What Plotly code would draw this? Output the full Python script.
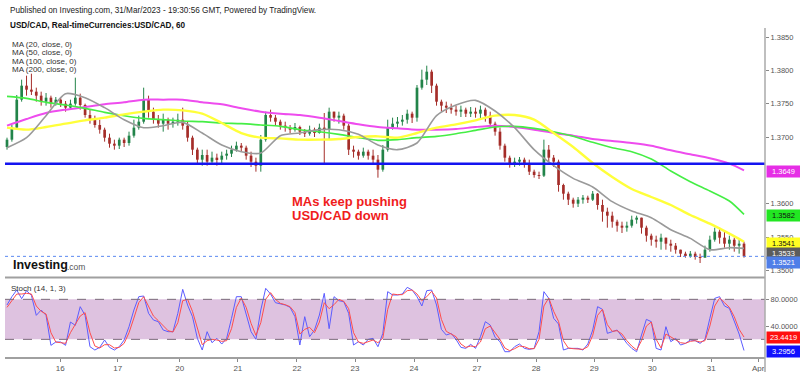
import plotly.graph_objects as go

# ---------------- data (2-hour bars, USD/CAD) ----------------
open0 = 1.3685
close = [
    1.3696, 1.3714, 1.3756, 1.3777, 1.3771, 1.3768, 1.3762, 1.3753, 1.3759, 1.3750,
    1.3756, 1.3750, 1.3744, 1.3750, 1.3759, 1.3748, 1.3733, 1.3726, 1.3718, 1.3711,
    1.3699, 1.3690, 1.3687, 1.3696, 1.3691, 1.3702, 1.3714, 1.3723, 1.3756, 1.3738,
    1.3726, 1.3720, 1.3726, 1.3720, 1.3723, 1.3726, 1.3717, 1.3699, 1.3681, 1.3666,
    1.3673, 1.3663, 1.3669, 1.3666, 1.3672, 1.3675, 1.3681, 1.3687, 1.3684, 1.3672,
    1.3663, 1.3657, 1.3696, 1.3733, 1.3729, 1.3723, 1.3717, 1.3714, 1.3711, 1.3715,
    1.3708, 1.3705, 1.3711, 1.3706, 1.3714, 1.3711, 1.3738, 1.3729, 1.3732, 1.3717,
    1.3681, 1.3678, 1.3672, 1.3678, 1.3672, 1.3666, 1.3651, 1.3681, 1.3714, 1.3720,
    1.3723, 1.3726, 1.3735, 1.3729, 1.3774, 1.3786, 1.3798, 1.3777, 1.3753, 1.3747,
    1.3744, 1.3741, 1.3738, 1.3741, 1.3735, 1.3738, 1.3735, 1.3741, 1.3732, 1.3720,
    1.3708, 1.3687, 1.3669, 1.3660, 1.3663, 1.3666, 1.3660, 1.3648, 1.3643, 1.3642,
    1.3681, 1.3669, 1.3663, 1.3628, 1.3615, 1.3606, 1.3600, 1.3606, 1.3609, 1.3606,
    1.3615, 1.3598, 1.3588, 1.3582, 1.3573, 1.3567, 1.3564, 1.3567, 1.3576, 1.3579,
    1.3564, 1.3552, 1.3546, 1.3543, 1.3549, 1.3540, 1.3537, 1.3531, 1.3525, 1.3523,
    1.3525, 1.3520, 1.3519, 1.3531, 1.3546, 1.3558, 1.3549, 1.3540, 1.3546, 1.3537,
    1.3540, 1.3521,
]
high = [
    1.3699, 1.3718, 1.3763, 1.3786, 1.3792, 1.3795, 1.3774, 1.3768, 1.3766, 1.3762,
    1.3760, 1.3759, 1.3754, 1.3756, 1.3789, 1.3765, 1.3750, 1.3741, 1.3732, 1.3726,
    1.3714, 1.3705, 1.3696, 1.3699, 1.3699, 1.3708, 1.3726, 1.3732, 1.3774, 1.3762,
    1.3744, 1.3733, 1.3735, 1.3729, 1.3729, 1.3735, 1.3744, 1.3723, 1.3702, 1.3684,
    1.3681, 1.3681, 1.3678, 1.3675, 1.3678, 1.3681, 1.3687, 1.3693, 1.3691, 1.3687,
    1.3678, 1.3669, 1.3703, 1.3738, 1.3741, 1.3733, 1.3726, 1.3723, 1.3718, 1.3721,
    1.3717, 1.3712, 1.3717, 1.3714, 1.3720, 1.3736, 1.3744, 1.3738, 1.3738, 1.3735,
    1.3720, 1.3687, 1.3681, 1.3684, 1.3681, 1.3681, 1.3673, 1.3688, 1.3726, 1.3729,
    1.3730, 1.3733, 1.3741, 1.3738, 1.3778, 1.3801, 1.3807, 1.3801, 1.3780, 1.3756,
    1.3753, 1.3750, 1.3747, 1.3747, 1.3744, 1.3745, 1.3744, 1.3747, 1.3744, 1.3738,
    1.3723, 1.3714, 1.3690, 1.3672, 1.3669, 1.3670, 1.3669, 1.3666, 1.3651, 1.3648,
    1.3696, 1.3688, 1.3673, 1.3666, 1.3630, 1.3618, 1.3609, 1.3610, 1.3613, 1.3612,
    1.3619, 1.3616, 1.3606, 1.3594, 1.3588, 1.3576, 1.3573, 1.3573, 1.3582, 1.3582,
    1.3579, 1.3567, 1.3555, 1.3552, 1.3555, 1.3549, 1.3546, 1.3541, 1.3531, 1.3528,
    1.3529, 1.3528, 1.3525, 1.3537, 1.3552, 1.3564, 1.3564, 1.3558, 1.3552, 1.3549,
    1.3546, 1.3543,
]
low = [
    1.3681, 1.3693, 1.3711, 1.3753, 1.3762, 1.3763, 1.3753, 1.3747, 1.3747, 1.3744,
    1.3747, 1.3745, 1.3738, 1.3741, 1.3747, 1.3741, 1.3729, 1.3720, 1.3714, 1.3705,
    1.3693, 1.3684, 1.3681, 1.3682, 1.3685, 1.3687, 1.3699, 1.3711, 1.3720, 1.3729,
    1.3720, 1.3714, 1.3708, 1.3711, 1.3714, 1.3717, 1.3711, 1.3693, 1.3673, 1.3658,
    1.3657, 1.3657, 1.3658, 1.3657, 1.3661, 1.3666, 1.3670, 1.3678, 1.3678, 1.3666,
    1.3655, 1.3648, 1.3648, 1.3693, 1.3723, 1.3717, 1.3711, 1.3708, 1.3706, 1.3708,
    1.3703, 1.3700, 1.3702, 1.3700, 1.3705, 1.3661, 1.3696, 1.3723, 1.3720, 1.3711,
    1.3673, 1.3669, 1.3666, 1.3669, 1.3666, 1.3660, 1.3639, 1.3648, 1.3678, 1.3711,
    1.3714, 1.3717, 1.3720, 1.3721, 1.3723, 1.3771, 1.3778, 1.3766, 1.3747, 1.3738,
    1.3736, 1.3735, 1.3732, 1.3730, 1.3730, 1.3730, 1.3729, 1.3726, 1.3723, 1.3714,
    1.3702, 1.3681, 1.3663, 1.3654, 1.3655, 1.3657, 1.3654, 1.3643, 1.3639, 1.3637,
    1.3640, 1.3663, 1.3655, 1.3618, 1.3606, 1.3598, 1.3594, 1.3595, 1.3600, 1.3601,
    1.3604, 1.3591, 1.3573, 1.3564, 1.3564, 1.3558, 1.3556, 1.3558, 1.3564, 1.3570,
    1.3555, 1.3543, 1.3537, 1.3534, 1.3531, 1.3531, 1.3528, 1.3525, 1.3520, 1.3519,
    1.3519, 1.3516, 1.3511, 1.3519, 1.3528, 1.3543, 1.3540, 1.3534, 1.3531, 1.3528,
    1.3525, 1.3519,
]

ma_idx = [0, 4, 8, 12, 16, 20, 24, 28, 32, 36, 40, 44, 48, 52, 56, 60, 64, 68, 72, 76,
          80, 84, 88, 92, 96, 100, 104, 108, 112, 116, 120, 124, 128, 132, 136, 140, 144, 148, 151]
ma20 = [1.3684, 1.3699, 1.3732, 1.3765, 1.3759, 1.3744, 1.3726, 1.3714, 1.3717, 1.3722,
        1.3706, 1.3688, 1.3678, 1.3676, 1.3702, 1.3706, 1.3711, 1.3711, 1.3704, 1.3688,
        1.3681, 1.3691, 1.3732, 1.3748, 1.3755, 1.3739, 1.3714, 1.3681, 1.3657, 1.3638,
        1.3625, 1.3603, 1.3589, 1.3579, 1.3561, 1.3548, 1.3531, 1.3534, 1.3533]
ma50 = [1.3714, 1.3711, 1.3715, 1.3720, 1.3725, 1.3729, 1.3734, 1.3738, 1.3741, 1.3740,
        1.3735, 1.3721, 1.3706, 1.3699, 1.3698, 1.3696, 1.3696, 1.3697, 1.3700, 1.3701,
        1.3699, 1.3706, 1.3714, 1.3719, 1.3725, 1.3732, 1.3733, 1.3726, 1.3706, 1.3685,
        1.3661, 1.3640, 1.3622, 1.3610, 1.3598, 1.3583, 1.3570, 1.3555, 1.3543]
ma100 = [1.3761, 1.3758, 1.3752, 1.3748, 1.3743, 1.3737, 1.3732, 1.3728, 1.3726, 1.3724,
         1.3723, 1.3721, 1.3720, 1.3718, 1.3716, 1.3711, 1.3708, 1.3704, 1.3699, 1.3695,
         1.3696, 1.3699, 1.3701, 1.3705, 1.3710, 1.3715, 1.3716, 1.3713, 1.3708, 1.3701,
         1.3692, 1.3684, 1.3678, 1.3667, 1.3649, 1.3633, 1.3619, 1.3604, 1.3584]
ma200 = [1.3717, 1.3727, 1.3736, 1.3741, 1.3745, 1.3749, 1.3752, 1.3756, 1.3756, 1.3756,
         1.3752, 1.3749, 1.3743, 1.3738, 1.3735, 1.3733, 1.3729, 1.3724, 1.3719, 1.3715,
         1.3713, 1.3711, 1.3711, 1.3712, 1.3715, 1.3717, 1.3715, 1.3711, 1.3706, 1.3702,
         1.3697, 1.3694, 1.3691, 1.3687, 1.3680, 1.3674, 1.3668, 1.3660, 1.3650]

stoch_k = [
    71.5, 84, 94, 81, 93, 86, 56, 64, 56, 11,
    16, 16, 11, 46, 41, 69, 56, 9, 4, 8,
    19, 8, 4, 9, 19, 39, 64, 84, 85, 59,
    49, 46.5, 34, 31.5, 31.5, 59, 95, 71.5, 54, 21.5,
    4, 31.5, 15, 21.5, 13, 21.5, 51.5, 84, 84, 56.5,
    31.5, 20, 64, 96.5, 88, 75, 73, 71.5, 68, 54,
    11.5, 54, 24, 34, 56.5, 89, 36, 84, 78, 76.5,
    59, 11.5, 16.5, 11.5, 20, 21.5, 9, 29, 91.5, 86.5,
    86.5, 88, 98, 94, 84, 70, 93, 94, 71.5, 35,
    26.5, 29, 20, 8, 6.5, 12.5, 6.5, 24, 46.5, 41.5,
    23, 16.5, 1.5, 1.5, 9, 13, 6.5, 5, 6.5, 31.5,
    91.5, 81.5, 51.5, 43, 4, 6.5, 6.5, 6.5, 4, 13,
    34, 69, 65, 29, 31.5, 34, 24, 14, 6.5, 1.5,
    26.5, 50, 46.5, 6.5, 4, 39, 16.5, 21.5, 11.5, 14,
    19, 18, 14, 20, 51.5, 81.5, 84, 70, 66.5, 46,
    28, 3.2956,
]
stoch_d = [
    68, 78, 88, 88, 89, 88, 70, 62, 58, 30,
    16, 15, 14, 30, 42, 55, 60, 30, 10, 7,
    12, 12, 7, 8, 14, 30, 52, 75, 84, 70,
    55, 48, 40, 33, 31, 45, 78, 80, 62, 35,
    12, 18, 20, 19, 17, 18, 36, 68, 82, 68,
    44, 26, 45, 80, 90, 80, 74, 72, 69, 60,
    28, 35, 38, 30, 46, 75, 66, 72, 80, 77,
    66, 30, 16, 14, 16, 19, 15, 22, 65, 88,
    87, 87, 93, 94, 88, 78, 84, 92, 82, 50,
    32, 28, 24, 13, 8, 10, 9, 16, 36, 40,
    30, 20, 7, 3, 6, 10, 9, 6, 6, 20,
    70, 82, 62, 47, 18, 7, 6, 6, 5, 9,
    26, 56, 65, 42, 32, 33, 28, 18, 10, 4,
    18, 40, 46, 20, 7, 28, 24, 20, 15, 14,
    17, 18, 16, 18, 40, 70, 82, 75, 68, 54,
    35, 23.4419,
]

day_labels = ["16", "17", "20", "21", "22", "23", "24", "27", "28", "29", "30", "31", "Apr"]
day_pos = [10.9, 22.7, 35.4, 47.3, 59.4, 71.3, 83.4, 96.3, 108.4, 120.3, 132.2, 144.3, 153.9]
price_ticks = [1.3500, 1.3550, 1.3600, 1.3700, 1.3750, 1.3800, 1.3850]
stoch_ticks = [40, 80]
support_level = 1.3660
last_price = 1.3521
last_ma20, last_ma50, last_ma100, last_ma200 = 1.3533, 1.3541, 1.3582, 1.3649
last_k, last_d = 3.2956, 23.4419

# ---------------- figure ----------------
FONT = "Liberation Sans, Arial, sans-serif"
UP, DN = "#23844a", "#a52e2a"
n = len(close)
xs = list(range(n))
opens = [open0] + close[:-1]
is_up = [c >= o for o, c in zip(opens, close)]

fig = go.Figure()

# wicks
for flag, col in [(True, UP), (False, DN)]:
    wx, wy = [], []
    for i in range(n):
        if is_up[i] == flag:
            wx += [xs[i], xs[i], None]
            wy += [min(low[i], opens[i], close[i]), max(high[i], opens[i], close[i]), None]
    fig.add_trace(go.Scatter(x=wx, y=wy, mode="lines", line=dict(color=col, width=1),
                             xaxis="x", yaxis="y", hoverinfo="skip"))

# bodies
fig.add_trace(go.Bar(
    x=xs,
    y=[max(abs(c - o), 0.00005) for o, c in zip(opens, close)],
    base=[min(o, c) for o, c in zip(opens, close)],
    width=0.55,
    marker=dict(color=[UP if u else DN for u in is_up], line=dict(width=0)),
    xaxis="x", yaxis="y",
))

# moving averages
for vals, col, w in [(ma200, "#ee4cee", 2), (ma100, "#45ee45", 1.6),
                     (ma50, "#ffff3a", 2.4), (ma20, "#9a9a9a", 1.6)]:
    fig.add_trace(go.Scatter(x=ma_idx, y=vals, mode="lines",
                             line=dict(color=col, width=w, shape="spline", smoothing=0.7),
                             xaxis="x", yaxis="y"))

# stochastic
fig.add_trace(go.Scatter(x=xs, y=stoch_k, mode="lines", line=dict(color="#5c5cff", width=1),
                         xaxis="x", yaxis="y2"))
fig.add_trace(go.Scatter(x=xs, y=stoch_d, mode="lines", line=dict(color="#ff4d4d", width=1),
                         xaxis="x", yaxis="y2"))

PRICE_DOM = [0.2446, 1.0]
STOCH_DOM = [0.0, 0.2416]

shapes = [
    dict(type="rect", xref="paper", yref="y2", x0=0, x1=1, y0=20, y1=80,
         fillcolor="#dec2e0", line=dict(width=0), layer="below"),
    dict(type="line", xref="paper", yref="y2", x0=0, x1=1, y0=80, y1=80,
         line=dict(color="#7a6a7a", width=1, dash="dash")),
    dict(type="line", xref="paper", yref="y2", x0=0, x1=1, y0=20, y1=20,
         line=dict(color="#7a6a7a", width=1, dash="dash")),
    dict(type="line", xref="paper", yref="y", x0=0, x1=1, y0=support_level, y1=support_level,
         line=dict(color="#1414f0", width=2.5)),
    dict(type="line", xref="paper", yref="y", x0=0, x1=1, y0=last_price, y1=last_price,
         line=dict(color="#5a88f0", width=1, dash="dot")),
    dict(type="line", xref="paper", yref="paper", x0=0, x1=1, y0=0.2430, y1=0.2430,
         line=dict(color="#a0a0a0", width=2)),
    dict(type="line", xref="paper", yref="paper", x0=1, x1=1, y0=-0.046, y1=1.006,
         line=dict(color="#aaaaaa", width=1.5)),
]

def box(val, yref, bg, fg, yshift=0):
    return dict(xref="paper", x=1.0, xanchor="left", xshift=1, yref=yref, y=val,
                yanchor="middle", yshift=yshift, text=f"{val:.4f}", showarrow=False,
                bgcolor=bg, borderpad=1, width=31, align="center",
                font=dict(family=FONT, size=7.5, color=fg))

def txt(s, px, py, size=8, color="#333", bold=False):
    return dict(xref="paper", yref="paper", x=(px - 5) / 760, y=(357 - py) / 327,
                xanchor="left", yanchor="middle", showarrow=False,
                text=f"<b>{s}</b>" if bold else s,
                font=dict(family=FONT, size=size, color=color))

annotations = [
    txt("Published on Investing.com, 31/Mar/2023 - 19:30:56 GMT, Powered by TradingView.", 8, 11, 8.2, "#222"),
    txt("USD/CAD, Real-timeCurrencies:USD/CAD, 60", 8, 25, 8.2, "#111", True),
    txt("MA (20, close, 0)", 10, 44, 8, "#333"),
    txt("MA (50, close, 0)", 10, 52.5, 8, "#333"),
    txt("MA (100, close, 0)", 10, 61, 8, "#333"),
    txt("MA (200, close, 0)", 10, 69.5, 8, "#333"),
    txt("Investing", 11, 265, 12.5, "#111", True),
    txt(".com", 65, 267, 8.5, "#555"),
    txt("Stoch (14, 1, 3)", 9, 288, 8, "#333"),
    txt("MAs keep pushing", 290, 201, 13, "#f01c1c", True),
    txt("USD/CAD down", 290, 215, 13, "#f01c1c", True),
    box(last_ma200, "y", "#e62ee6", "#ffffff"),
    box(last_ma100, "y", "#22e622", "#111111"),
    box(last_ma50, "y", "#ffff22", "#111111"),
    box(last_ma20, "y", "#5c5c5c", "#ffffff", -5),
    box(last_price, "y", "#4f7ee8", "#ffffff", -6),
    box(last_d, "y2", "#ff1010", "#ffffff"),
    box(last_k, "y2", "#1010ff", "#ffffff", -1),
]

fig.update_layout(
    width=800, height=372,
    margin=dict(l=5, r=35, t=30, b=15, autoexpand=False),
    paper_bgcolor="white", plot_bgcolor="white",
    showlegend=False, barmode="overlay",
    font=dict(family=FONT, size=8, color="#555"),
    xaxis=dict(range=[-0.41, 155.3], anchor="y2", tickvals=day_pos, ticktext=day_labels,
               showgrid=False, zeroline=False, showline=True, linecolor="#a0a0a0", linewidth=1.5,
               ticks="outside", ticklen=3, tickcolor="#888", ticklabelstandoff=0,
               automargin=False,
               tickfont=dict(family=FONT, size=8, color="#555")),
    yaxis=dict(domain=PRICE_DOM, range=[1.3490, 1.38605], side="right",
               tickvals=price_ticks, tickformat=".4f", showgrid=False, zeroline=False,
               ticks="outside", ticklen=3, tickcolor="#888", automargin=False,
               tickfont=dict(family=FONT, size=7.5, color="#555")),
    yaxis2=dict(domain=STOCH_DOM, range=[-6.45, 112], side="right", anchor="x",
                tickvals=stoch_ticks, tickformat=".4f", showgrid=False, zeroline=False,
                ticks="outside", ticklen=3, tickcolor="#888", automargin=False,
                tickfont=dict(family=FONT, size=7.5, color="#555")),
    shapes=shapes,
    annotations=annotations,
)

fig.write_html("out.html", config={"displayModeBar": False},
               post_script="document.body.style.margin='0';")
